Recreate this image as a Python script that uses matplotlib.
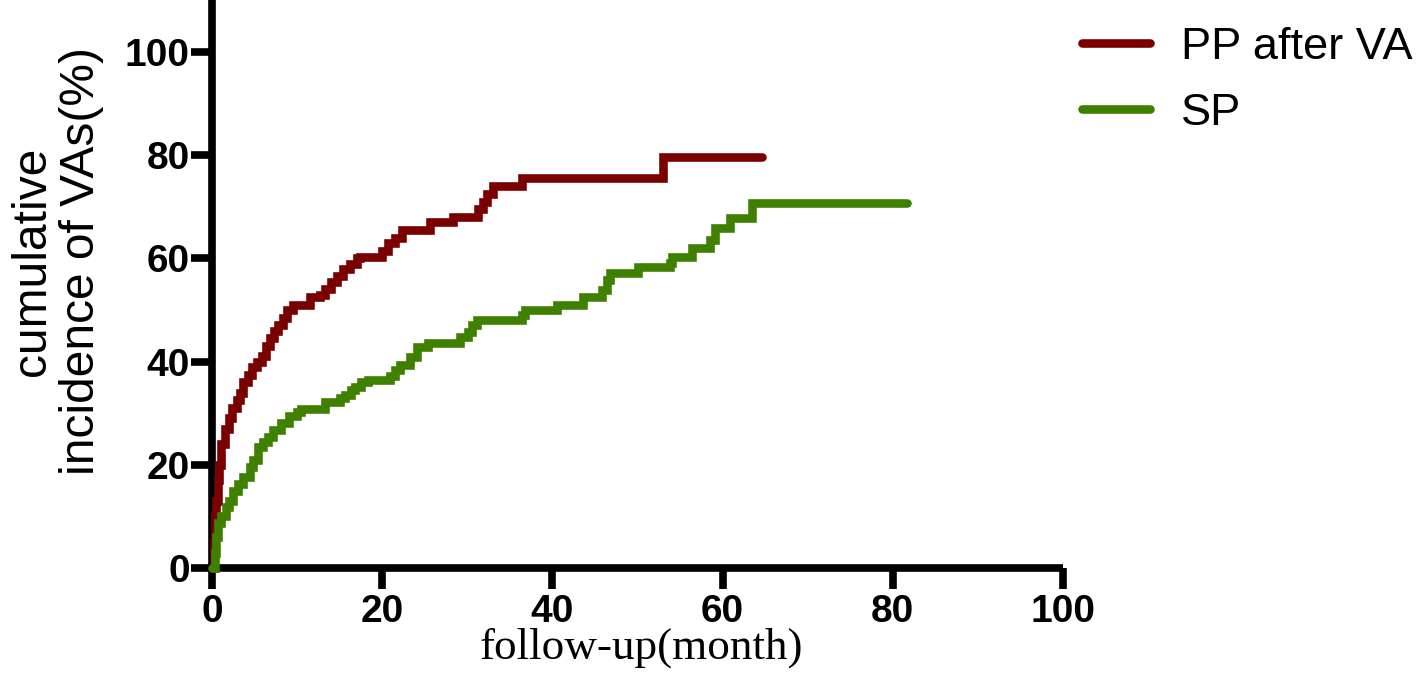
import matplotlib
matplotlib.use("Agg")
import matplotlib.pyplot as plt

# ---- data (months, cumulative incidence %) ----
pp_time = [0, 0.2, 0.35, 0.5, 0.65, 0.8, 1.1, 1.5, 2.0, 2.4, 2.9, 3.3, 3.7, 4.2, 4.7,
           5.3, 5.9, 6.4, 6.8, 7.3, 7.8, 8.3, 8.8, 9.5, 11.5, 12.7, 13.3, 14.0, 14.7,
           15.4, 16.2, 17.0, 17.4, 20.0, 20.7, 21.5, 22.3, 25.6, 28.3, 31.3, 31.8,
           32.3, 33.0, 36.4, 53.0, 64.6]
pp_value = [0, 5, 10, 13, 17, 20, 24, 27, 29, 31, 32.5, 34, 36, 37.5, 39,
            40, 41, 43, 44.5, 46, 47, 48.5, 50, 51, 52.5, 53, 54, 55.5, 56.5,
            58, 59, 60, 60.3, 61.5, 63, 64, 65.5, 67, 68, 69.5, 71,
            72.5, 74, 75.6, 79.7, 79.7]

sp_time = [0, 0.3, 0.5, 0.7, 1.0, 1.6, 2.0, 2.5, 3.0, 3.6, 4.5, 4.8, 5.4, 6.0, 6.6,
           7.2, 8.1, 9.0, 10.0, 10.5, 13.3, 15.0, 15.6, 16.3, 16.8, 17.5, 18.3, 20.9,
           21.5, 22.1, 23.3, 24.1, 25.4, 29.1, 30.1, 30.6, 31.1, 36.4, 36.8, 40.5,
           43.6, 45.8, 46.4, 46.8, 50.0, 53.8, 54.1, 56.4, 58.5, 59.1, 60.9, 63.5, 81.7]
sp_value = [0, 3, 6, 8.7, 10, 11.8, 13, 15, 16.3, 17.6, 19.5, 21, 23.4, 24.5, 25.4,
            26.8, 28.1, 29.5, 30.3, 30.8, 32.2, 33, 33.5, 34.5, 35, 36, 36.4, 37.2,
            38.3, 39.3, 40.9, 42.8, 43.6, 44.8, 45.8, 47, 48.1, 49, 50, 51,
            52.5, 53.9, 55.8, 57.2, 58.3, 59.1, 60.3, 62, 63.6, 65.9, 67.8, 70.7, 70.7]

series_labels = ["PP after VA", "SP"]
series_colors = ["#7a0000", "#408000"]
x_ticks = [0, 20, 40, 60, 80, 100]
y_ticks = [0, 20, 40, 60, 80, 100]

W, H = 1418, 695
fig = plt.figure(figsize=(W / 100, H / 100), dpi=100)
ax = fig.add_axes([212 / W, 1 - 568 / H, (1063 - 212) / W, 567.6 / H])

lw = 6.2
for t, v, lab, col in zip([pp_time, sp_time], [pp_value, sp_value], series_labels, series_colors):
    ax.step(t, v, where="post", color=col, lw=lw, label=lab,
            solid_capstyle="round", solid_joinstyle="miter", clip_on=False, zorder=3)

ax.set_xlim(0, 100)
ax.set_ylim(0, 110)
ax.set_xticks(x_ticks)
ax.set_yticks(y_ticks)
for s in ["top", "right"]:
    ax.spines[s].set_visible(False)
for s in ["left", "bottom"]:
    ax.spines[s].set_linewidth(5.5)
    ax.spines[s].set_capstyle("butt")
ax.tick_params(axis="both", length=15, width=5.5, direction="out", color="black")
ax.tick_params(axis="y", pad=1)
ax.tick_params(axis="x", pad=4)
for lbl in ax.get_xticklabels() + ax.get_yticklabels():
    lbl.set_fontfamily("Liberation Sans")
    lbl.set_fontweight("bold")
    lbl.set_fontsize(28)

ax.set_xlabel("follow-up(month)", fontfamily="Liberation Serif", fontsize=32.5)
ax.xaxis.set_label_coords(0.505, -0.105)
ax.set_ylabel("cumulative\nincidence of VAs(%)", fontfamily="Liberation Sans",
              fontsize=34.5, linespacing=1.1)
ax.yaxis.set_label_coords(-0.127, 0.54)

leg = fig.legend(loc="upper left", bbox_to_anchor=(1082 / W, 1 - 27 / H), frameon=False,
                 prop={"family": "Liberation Sans", "size": 32.5},
                 handlelength=1.5, handletextpad=0.7, labelspacing=0.55,
                 borderaxespad=0, borderpad=0)
for h in leg.get_lines():
    h.set_linewidth(6.2)
    h.set_solid_capstyle("round")

fig.savefig("out.png", dpi=100)
